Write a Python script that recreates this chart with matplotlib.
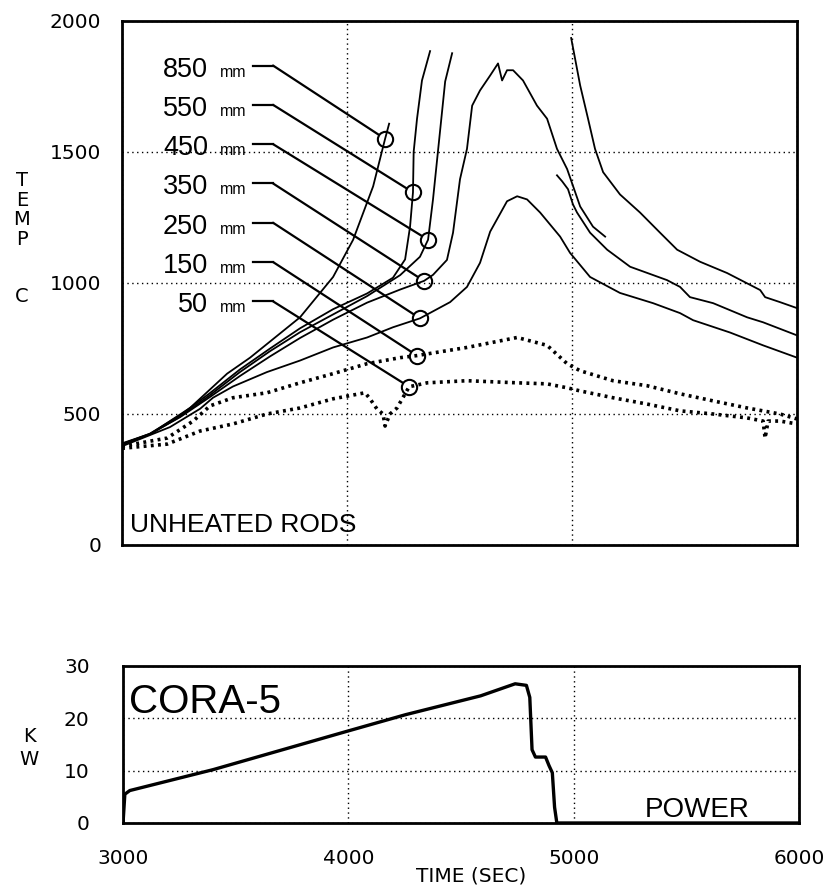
import matplotlib.pyplot as plt
import numpy as np

# --- temperatures of the unheated rods (time in s, temp in deg C) ---
t_850 = [3000, 3124, 3302, 3467, 3569, 3791, 3938, 4027, 4116, 4169, 4187]
T_850 = [385, 423, 523, 654, 715, 869, 1023, 1165, 1369, 1550, 1608]

t_550 = [3000, 3124, 3258, 3391, 3524, 3658, 3791, 3938, 4089, 4204, 4258, 4280,
         4293, 4296, 4311, 4333, 4369]
T_550 = [385, 425, 495, 580, 670, 750, 827, 900, 960, 1020, 1090, 1215,
         1346, 1500, 1627, 1773, 1885]

t_450 = [3000, 3124, 3258, 3391, 3524, 3658, 3791, 3938, 4089, 4236, 4324, 4360,
         4382, 4413, 4436, 4467]
T_450 = [383, 422, 490, 572, 660, 740, 812, 880, 950, 1030, 1100, 1165,
         1319, 1577, 1769, 1877]

t_350 = [3000, 3124, 3258, 3391, 3524, 3658, 3791, 3938, 4089, 4236, 4342, 4382,
         4444, 4471, 4502, 4533, 4556, 4591, 4636, 4671, 4689, 4711, 4738, 4782,
         4844, 4889, 4933, 4978, 5036, 5093, 5147]
T_350 = [388, 424, 488, 565, 645, 720, 790, 860, 925, 975, 1008, 1031,
         1088, 1192, 1396, 1512, 1677, 1735, 1792, 1838, 1773, 1812, 1812, 1773,
         1677, 1627, 1512, 1435, 1292, 1215, 1177]

t_250 = [3000, 3213, 3347, 3404, 3493, 3644, 3791, 3938, 4089, 4204, 4324, 4458,
         4533, 4591, 4636, 4711, 4756, 4800, 4858, 4947, 4991, 5080, 5213, 5360,
         5480, 5538, 5702, 5849, 6000]
T_250 = [377, 450, 520, 562, 605, 660, 704, 754, 792, 831, 865, 927,
         985, 1077, 1196, 1312, 1331, 1319, 1269, 1177, 1115, 1023, 962, 923,
         885, 858, 811, 762, 715]

t_150 = [3000, 3200, 3316, 3391, 3493, 3644, 3791, 3938, 4089, 4236, 4311, 4533,
         4756, 4889, 4978, 5036, 5182, 5333, 5480, 5627, 5778, 5924, 6000]
T_150 = [377, 408, 473, 531, 562, 581, 619, 654, 692, 715, 723, 754,
         792, 762, 692, 665, 627, 608, 577, 550, 523, 500, 481]

t_50 = [3000, 3200, 3347, 3493, 3644, 3791, 3938, 4080, 4102, 4133, 4160, 4169,
        4191, 4222, 4276, 4356, 4533, 4756, 4889, 4978, 5036, 5182, 5333, 5480,
        5627, 5778, 5849, 5858, 5871, 5924, 6000]
T_50 = [369, 385, 435, 462, 500, 523, 558, 581, 558, 519, 500, 454,
        500, 523, 604, 619, 627, 619, 615, 600, 588, 562, 538, 512,
        500, 485, 473, 408, 473, 473, 462]

# late readings that come back on scale after the excursions
t_late_a = [4996, 5013, 5036, 5071, 5102, 5138, 5213, 5302, 5391, 5467, 5569,
            5689, 5836, 5858, 5924, 6000]
T_late_a = [1935, 1858, 1754, 1627, 1512, 1423, 1338, 1269, 1192, 1127, 1081,
            1038, 973, 946, 927, 904]
t_late_b = [4933, 4956, 4982, 5004, 5022, 5080, 5156, 5258, 5422, 5480, 5524,
            5627, 5778, 5849, 6000]
T_late_b = [1411, 1388, 1358, 1300, 1269, 1192, 1127, 1062, 1011, 985, 946,
            923, 869, 850, 800]

# labels and marker circles
elevations = ['850', '550', '450', '350', '250', '150', '50']
label_temp = [1830, 1680, 1530, 1380, 1230, 1080, 930]
circle_time = [4169, 4293, 4360, 4342, 4324, 4311, 4276]
circle_temp = [1550, 1346, 1165, 1008, 865, 723, 604]

# electric power
t_power = [3000, 3008, 3030, 3400, 4000, 4254, 4587, 4740, 4790, 4805, 4815,
           4830, 4875, 4890, 4905, 4915, 4925, 6000]
p_power = [0, 5.5, 6.2, 10.2, 17.6, 20.7, 24.3, 26.6, 26.3, 24, 14,
           12.6, 12.6, 11, 9.6, 3, 0, 0]

plt.rcParams['font.family'] = ['DejaVu Sans']
narrow = ['Liberation Sans', 'DejaVu Sans']
grid_style = dict(color='black', linestyle=(0, (1, 2.5)), linewidth=1.0)

fig = plt.figure(figsize=(8.37, 8.93), dpi=100)

# ---------------- temperature plot ----------------
ax = fig.add_axes([0.1458, 0.3897, 0.8065, 0.5868])
solid = [(t_850, T_850), (t_550, T_550), (t_450, T_450), (t_350, T_350),
         (t_250, T_250), (t_late_a, T_late_a), (t_late_b, T_late_b)]
for t, T in solid:
    ax.plot(t, T, color='black', lw=1.3)
for t, T in [(t_150, T_150), (t_50, T_50)]:
    ax.plot(t, T, color='black', lw=2.6, linestyle=(0, (0.8, 1.2)))

for name, ly, cx, cy in zip(elevations, label_temp, circle_time, circle_temp):
    ax.text(3382, ly - 42, name, ha='right', va='baseline', fontsize=19.5,
            family=narrow)
    ax.text(3436, ly - 42, 'mm', ha='left', va='baseline', fontsize=11.5,
            family=narrow)
    ax.plot([3582, 3671], [ly, ly], color='black', lw=1.6)
    ax.annotate('', xy=(cx, cy), xytext=(3671, ly),
                arrowprops=dict(arrowstyle='-', color='black', lw=1.6,
                                shrinkA=0, shrinkB=5.5))
    ax.plot(cx, cy, 'o', ms=11, mfc='none', mec='black', mew=1.5)

ax.text(3538, 48, 'UNHEATED RODS', ha='center', va='baseline', fontsize=19,
        family=narrow)

ax.set_xlim(3000, 6000)
ax.set_ylim(0, 2000)
ax.set_xticks([3000, 4000, 5000, 6000])
ax.set_yticks([0, 500, 1000, 1500, 2000])
ax.set_xticklabels([])
ax.grid(True, **grid_style)
ax.tick_params(length=0, labelsize=14.5, pad=15)
for s in ax.spines.values():
    s.set_linewidth(2)

fig.text(0.026, 0.765, 'T\nE\nM\nP', ha='center', va='center', fontsize=14,
         linespacing=1.03)
fig.text(0.026, 1 - 297 / 893, 'C', ha='center', va='center', fontsize=14)

# ---------------- power plot ----------------
bx = fig.add_axes([0.147, 0.0784, 0.8077, 0.1758])
bx.plot(t_power, p_power, color='black', lw=2.4)
bx.text(3364, 21.0, 'CORA-5', ha='center', va='baseline', fontsize=29,
        family=narrow)
bx.text(5549, 1.2, 'POWER', ha='center', va='baseline', fontsize=20,
        family=narrow)
bx.set_xlim(3000, 6000)
bx.set_ylim(0, 30)
bx.set_xticks([3000, 4000, 5000, 6000])
bx.set_yticks([0, 10, 20, 30])
bx.grid(True, **grid_style)
bx.tick_params(length=0, labelsize=14.5)
bx.tick_params(axis='y', pad=24)
bx.tick_params(axis='x', pad=19)
for s in bx.spines.values():
    s.set_linewidth(2)

fig.text(0.035, 1 - 748 / 893, 'K\nW', ha='center', va='center', fontsize=14,
         linespacing=1.24)
fig.text(471 / 837, 1 - 876 / 893, 'TIME (SEC)', ha='center', va='center',
         fontsize=14.5)

fig.savefig('out.png', dpi=100)
